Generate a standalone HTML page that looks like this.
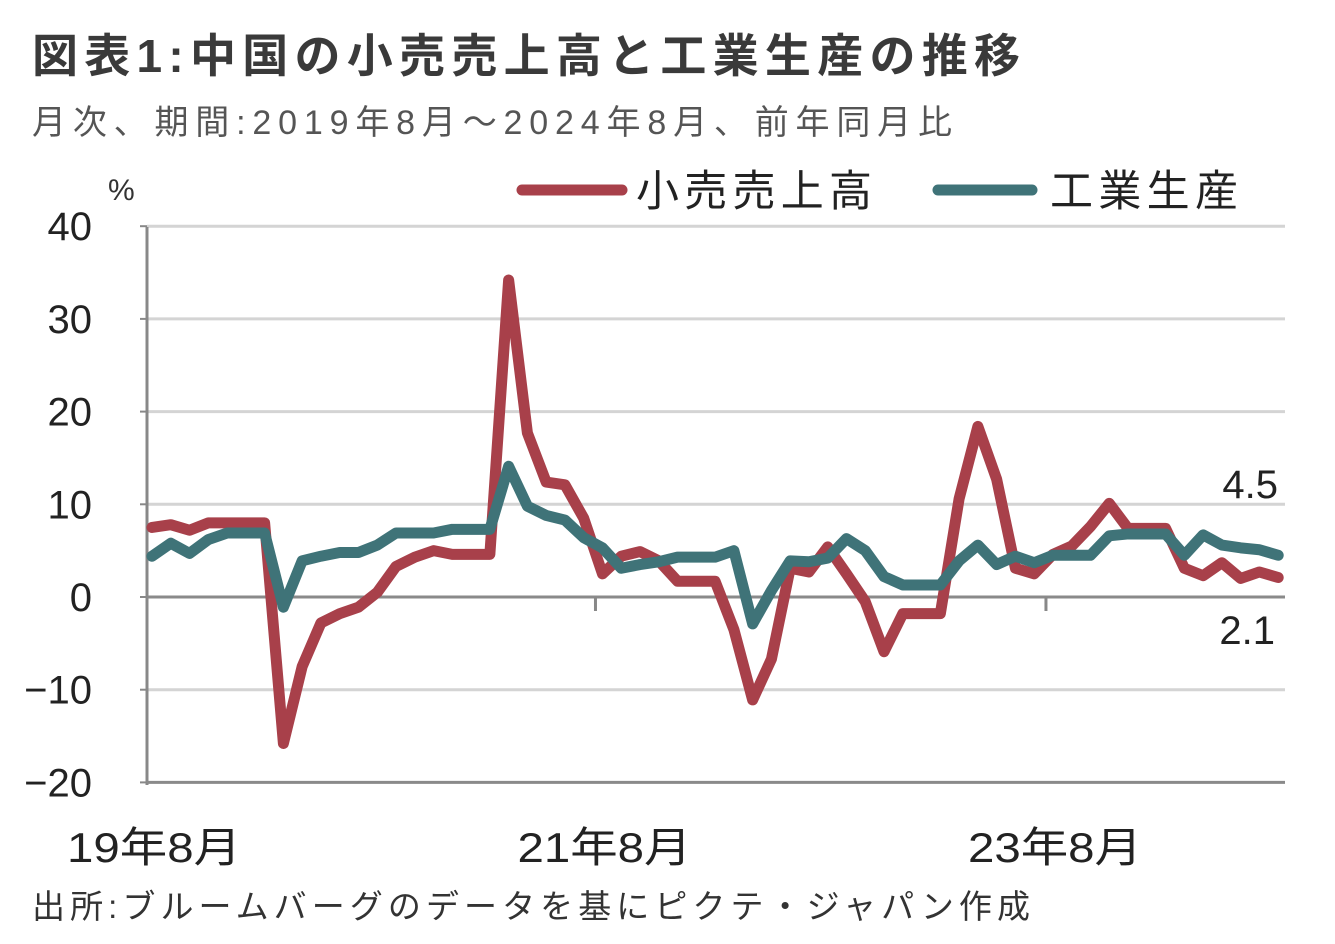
<!DOCTYPE html>
<html><head><meta charset="utf-8">
<style>
body{margin:0;background:#fff;width:1335px;height:939px;overflow:hidden;font-family:"Liberation Sans","Noto Sans CJK JP",sans-serif;}
svg text{font-family:"Liberation Sans","Noto Sans CJK JP",sans-serif;}
</style></head>
<body>
<svg id="chart" width="1335" height="939" xmlns="http://www.w3.org/2000/svg">
<text x="32" y="72" font-size="46" font-weight="bold" fill="#3a3a3a" textLength="988" lengthAdjust="spacing">図表1:中国の小売売上高と工業生産の推移</text>
<text x="32" y="134" font-size="34" fill="#555" textLength="920" lengthAdjust="spacing">月次、期間:2019年8月～2024年8月、前年同月比</text>
<text x="108" y="200" font-size="30" fill="#333">%</text>
<g>
<line x1="522" y1="190" x2="622" y2="190" stroke="#a8404a" stroke-width="11" stroke-linecap="round"/>
<text x="636" y="206" font-size="43" fill="#222" textLength="236" lengthAdjust="spacing">小売売上高</text>
<line x1="938" y1="190" x2="1032" y2="190" stroke="#3f7378" stroke-width="11" stroke-linecap="round"/>
<text x="1050" y="206" font-size="43" fill="#222" textLength="188" lengthAdjust="spacing">工業生産</text>
</g>
<g id="grid"></g><g id="axes"></g><g id="lines"></g>
<text x="1278" y="498" font-size="40" fill="#222" text-anchor="end">4.5</text>
<text x="1275" y="644" font-size="40" fill="#222" text-anchor="end">2.1</text>
<text x="32" y="918" font-size="33" fill="#333" textLength="998" lengthAdjust="spacing">出所:ブルームバーグのデータを基にピクテ・ジャパン作成</text>
</svg>
<script>
const yTicks=[40,30,20,10,0,-10,-20];
const xTickLabels=["19年8月","21年8月","23年8月"];
const xTickIdx=[0,24,48];
const retail=[7.5,7.8,7.2,8.0,8.0,8.0,8.0,-15.8,-7.5,-2.8,-1.8,-1.1,0.5,3.3,4.3,5.0,4.6,4.6,4.6,34.2,17.7,12.4,12.1,8.5,2.5,4.4,4.9,3.9,1.7,1.7,1.7,-3.5,-11.1,-6.7,3.1,2.7,5.4,2.5,-0.5,-5.9,-1.8,-1.8,-1.8,10.6,18.4,12.7,3.1,2.5,4.6,5.5,7.6,10.1,7.4,7.4,7.4,3.1,2.3,3.7,2.0,2.7,2.1];
const industry=[4.4,5.8,4.7,6.2,6.9,6.9,6.9,-1.1,3.9,4.4,4.8,4.8,5.6,6.9,6.9,6.9,7.3,7.3,7.3,14.1,9.8,8.8,8.3,6.4,5.3,3.1,3.5,3.8,4.3,4.3,4.3,5.0,-2.9,0.7,3.9,3.8,4.2,6.3,5.0,2.2,1.3,1.3,1.3,3.9,5.6,3.5,4.4,3.7,4.5,4.5,4.5,6.6,6.8,6.8,6.8,4.5,6.7,5.6,5.3,5.1,4.5];
const NS="http://www.w3.org/2000/svg";
const y=v=>597-v*9.27;
const x=i=>152+i*18.77;
function mk(tag,attrs,parent){const e=document.createElementNS(NS,tag);for(const k in attrs)e.setAttribute(k,attrs[k]);document.getElementById(parent).appendChild(e);return e;}
yTicks.forEach(t=>{
 if(t!==0&&t!==-20){const g=mk('line',{x1:147,x2:1285,y1:y(t),y2:y(t),stroke:'#d4d4d4','stroke-width':3},'grid');
 
 }
 const tk=mk('line',{x1:140,x2:147,y1:y(t),y2:y(t),stroke:'#888','stroke-width':2},'axes');
 
 
 const lb=mk('text',{x:92,y:y(t)+14,'font-size':40,fill:'#222','text-anchor':'end'},'axes');lb.textContent=t<0?'−'+(-t):String(t);
 
 
});
let a=mk('line',{x1:147,x2:147,y1:227,y2:785,stroke:'#888','stroke-width':3},'axes');


a=mk('line',{x1:147,x2:1285,y1:y(0),y2:y(0),stroke:'#8a8a8a','stroke-width':3},'axes');


a=mk('line',{x1:147,x2:1285,y1:y(-20),y2:y(-20),stroke:'#8a8a8a','stroke-width':3},'axes');


xTickIdx.forEach((idx,k)=>{
 if(k>0){const t=mk('line',{x1:x(idx)-7,x2:x(idx)-7,y1:y(0),y2:y(0)+14,stroke:'#888','stroke-width':3},'axes');
 
 }
 const l=mk('text',{x:x(idx)-87+2,y:862,'font-size':42,fill:'#222',textLength:174,lengthAdjust:'spacingAndGlyphs'},'axes');l.textContent=xTickLabels[k];
 
 
});
function series(d,c,n){const p=mk('polyline',{points:d.map((v,i)=>x(i)+','+y(v)).join(' '),fill:'none',stroke:c,'stroke-width':11,'stroke-linejoin':'round','stroke-linecap':'round'},'lines');

}
series(retail,'#a8404a','retail-sales-line');
series(industry,'#3f7378','industrial-production-line');
</script>
</body></html>
